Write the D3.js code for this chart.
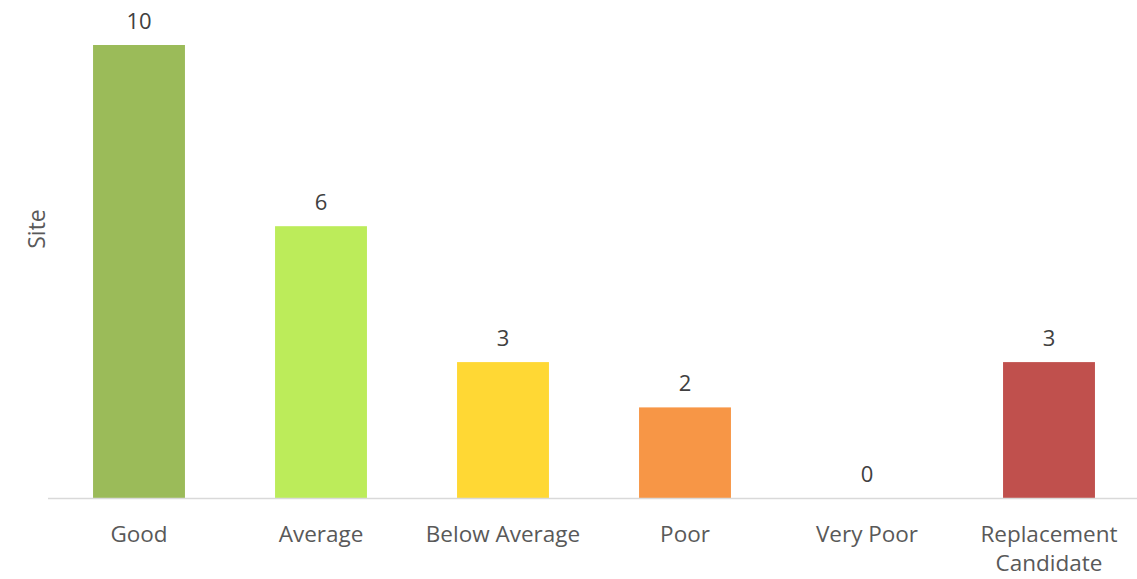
<!DOCTYPE html>
<html><head><meta charset="utf-8">
<script src="https://cdn.jsdelivr.net/npm/d3@7"></script>
<style>body{margin:0;background:#fff;} text{font-family:"Open Sans",sans-serif;}</style>
</head><body>
<svg id="c" width="1137" height="579"></svg>
<script>
const categories = ["Good","Average","Below Average","Poor","Very Poor","Replacement Candidate"];
const values = [10,6,3,2,0,3];
const colors = ["#9BBB59","#BCEC5A","#FFD834","#F79646","#C9C9C9","#C0504D"];

const svg = d3.select("#c");
const x = d3.scaleBand().domain(categories).range([48,1140]).paddingInner(0.495).paddingOuter(0.2475);
const y = d3.scaleLinear().domain([0,10]).range([498,45]);

svg.append("g").selectAll("rect").data(values).join("rect")
  .attr("x",(d,i)=>x(categories[i]))
  .attr("width",x.bandwidth())
  .attr("y",d=>y(d))
  .attr("height",d=>y(0)-y(d))
  .attr("fill",(d,i)=>colors[i]);

svg.append("line").attr("x1",48).attr("x2",1137).attr("y1",y(0)+0.5).attr("y2",y(0)+0.5)
  .attr("stroke","#d9d9d9").attr("stroke-width",1.5);

svg.append("g").selectAll("text").data(values).join("text")
  .attr("x",(d,i)=>x(categories[i])+x.bandwidth()/2)
  .attr("y",d=>y(d)-16)
  .attr("text-anchor","middle").attr("font-size",22).attr("fill","#404040")
  .text(d=>d);

const lab = svg.append("g").selectAll("text").data(categories).join("text")
  .attr("x",d=>x(d)+x.bandwidth()/2)
  .attr("y",542)
  .attr("text-anchor","middle").attr("font-size",22.5).attr("fill","#595959");
lab.each(function(d){
  const t=d3.select(this);
  const parts = d==="Replacement Candidate" ? ["Replacement","Candidate"] : [d];
  parts.forEach((p,i)=>t.append("tspan").attr("x",x(d)+x.bandwidth()/2).attr("dy",i?29:0).text(p));
});

svg.append("text").attr("transform","translate(45,229) rotate(-90)")
  .attr("text-anchor","middle").attr("font-size",23).attr("fill","#595959").text("Site");
</script>
</body></html>
